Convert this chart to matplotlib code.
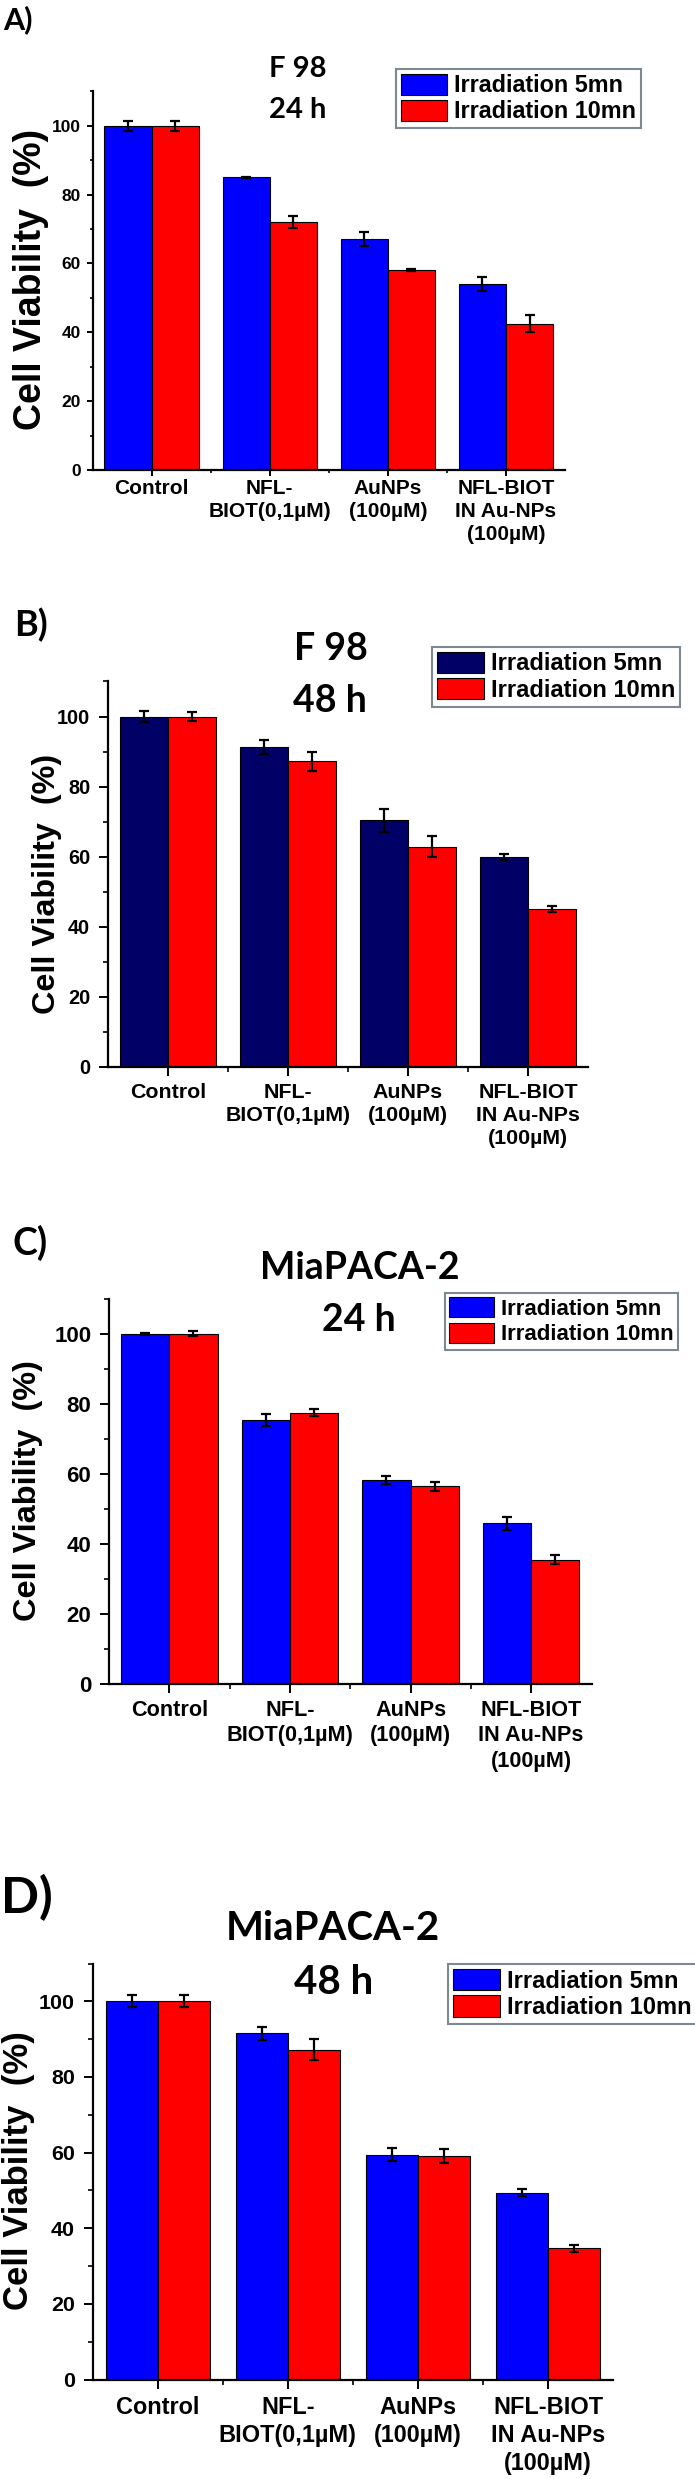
import matplotlib
matplotlib.use("Agg")
import matplotlib.pyplot as plt
import numpy as np
from matplotlib.ticker import FixedLocator

# ---------------- data ----------------
categories = ["Control", "NFL-\nBIOT(0,1µM)", "AuNPs\n(100µM)", "NFL-BIOT\nIN Au-NPs\n(100µM)"]
series_names = ["Irradiation 5mn", "Irradiation 10mn"]

A_5mn = [100, 85.0, 67.1, 54.0]
A_5mn_err = [1.4, 0.2, 2.0, 2.0]
A_10mn = [100, 72.1, 58.1, 42.5]
A_10mn_err = [1.4, 1.7, 0.4, 2.4]

B_5mn = [100, 91.2, 70.3, 59.9]
B_5mn_err = [1.6, 2.0, 3.2, 0.8]
B_10mn = [100, 87.2, 62.8, 45.0]
B_10mn_err = [1.4, 2.8, 3.0, 0.9]

C_5mn = [100, 75.4, 58.2, 45.8]
C_5mn_err = [0.2, 1.7, 1.1, 1.9]
C_10mn = [100, 77.5, 56.4, 35.4]
C_10mn_err = [0.7, 1.1, 1.4, 1.3]

D_5mn = [100, 91.5, 59.5, 49.4]
D_5mn_err = [1.6, 1.8, 1.8, 0.9]
D_10mn = [100, 87.2, 59.1, 34.7]
D_10mn_err = [1.6, 2.8, 1.8, 0.9]

panel_letters = ["A)", "B)", "C)", "D)"]
titles = [("F 98", "24 h"), ("F 98", "48 h"), ("MiaPACA-2", "24 h"), ("MiaPACA-2", "48 h")]
ylabel_text = "Cell Viability  (%)"

# ---------------- layout ----------------
W, H = 695, 2479
fig = plt.figure(figsize=(W / 100, H / 100), dpi=100)

def fx(x):
    return x / W

def fy(y):
    return 1 - y / H

TICKFONT = ["Liberation Sans", "DejaVu Sans"]
TITLEFONT = ["Lato", "DejaVu Sans"]

panels = [
    dict(data=(A_5mn, A_5mn_err, A_10mn, A_10mn_err), c5="#0000ff",
         ax=(92.6, 565, 91.4, 470), xt=15.0, yt=12.5, tl=4.5, pad_x=2, pad_y=4,
         ylab=(31, 279.5, 27), letter=(17.5, 20, 22),
         t1=(298, 69, 21), t2=(298, 110, 21),
         leg=(396, 69, 16.8)),
    dict(data=(B_5mn, B_5mn_err, B_10mn, B_10mn_err), c5="#000066",
         ax=(108, 588, 681.5, 1066.6), xt=15.4, yt=14.3, tl=6.7, pad_x=5, pad_y=6,
         ylab=(46.5, 883.5, 23.3), letter=(31, 625.5, 26),
         t1=(331, 648.5, 27), t2=(330, 701, 27),
         leg=(432, 647, 17)),
    dict(data=(C_5mn, C_5mn_err, C_10mn, C_10mn_err), c5="#0000ff",
         ax=(109, 591.5, 1298.9, 1683.7), xt=15.6, yt=16, tl=6.7, pad_x=5, pad_y=6,
         ylab=(28, 1491, 23.4), letter=(30, 1242.5, 27),
         t1=(360, 1268, 27), t2=(358.6, 1320, 27),
         leg=(445, 1293, 16)),
    dict(data=(D_5mn, D_5mn_err, D_10mn, D_10mn_err), c5="#0000ff",
         ax=(92.6, 613, 1963.5, 2379.6), xt=16.9, yt=15.4, tl=6.7, pad_x=5, pad_y=6,
         ylab=(18.5, 2170.5, 25), letter=(27, 1897.5, 36),
         t1=(333, 1928, 29), t2=(334, 1983, 29),
         leg=(448, 1964, 17.1)),
]

x = np.arange(1, len(categories) + 1)
bw = 0.4

for i, p in enumerate(panels):
    l, r, t, b = p["ax"]
    ax = fig.add_axes([fx(l), fy(b), fx(r - l), (b - t) / H])
    v5, e5, v10, e10 = p["data"]
    ekw = dict(elinewidth=1.6, capthick=1.6, ecolor="black")
    ax.bar(x - bw / 2, v5, bw, yerr=e5, color=p["c5"], edgecolor="black",
           linewidth=0.8, capsize=3.5, error_kw=ekw, label=series_names[0], zorder=2)
    ax.bar(x + bw / 2, v10, bw, yerr=e10, color="#ff0000", edgecolor="black",
           linewidth=0.8, capsize=3.5, error_kw=ekw, label=series_names[1], zorder=2)
    ax.set_xlim(0.5, 4.5)
    ax.set_ylim(0, 110)
    for s in ["top", "right"]:
        ax.spines[s].set_visible(False)
    for s in ["left", "bottom"]:
        ax.spines[s].set_linewidth(1.6)
    ax.set_yticks([0, 20, 40, 60, 80, 100])
    ax.yaxis.set_minor_locator(FixedLocator([10, 30, 50, 70, 90, 110]))
    ax.set_xticks(x)
    ax.xaxis.set_minor_locator(FixedLocator([1.5, 2.5, 3.5]))
    ax.set_xticklabels(categories, fontsize=p["xt"], fontweight="bold",
                       family=TICKFONT, linespacing=1.28)
    for lab in ax.get_yticklabels():
        lab.set_fontsize(p["yt"])
        lab.set_fontweight("bold")
        lab.set_family(TICKFONT)
    ax.tick_params(axis="both", which="major", direction="out", length=p["tl"], width=1.4)
    ax.tick_params(axis="both", which="minor", direction="out", length=p["tl"] * 0.55, width=1.2)
    ax.tick_params(axis="x", which="major", pad=p["pad_x"])
    ax.tick_params(axis="y", which="major", pad=p["pad_y"])

    # y label
    yx, yy, ys = p["ylab"]
    fig.text(fx(yx), fy(yy), ylabel_text, rotation=90, ha="center", va="center",
             fontsize=ys, fontweight="bold", family=TICKFONT)
    # panel letter
    lx, ly, ls = p["letter"]
    fig.text(fx(lx), fy(ly), panel_letters[i], ha="center", va="center",
             fontsize=ls, fontweight="bold", family=TITLEFONT)
    # titles
    for (tx, ty, ts), txt in zip((p["t1"], p["t2"]), titles[i]):
        fig.text(fx(tx), fy(ty), txt, ha="center", va="center",
                 fontsize=ts, fontweight="bold", family=TITLEFONT)
    # legend
    gx, gy, gs = p["leg"]
    leg = ax.legend(loc="upper left", bbox_to_anchor=(fx(gx), fy(gy)),
                    bbox_transform=fig.transFigure, borderaxespad=0,
                    prop=dict(family=TICKFONT, weight="bold", size=gs),
                    handlelength=2.0, handleheight=1.0, labelspacing=0.12,
                    borderpad=0.2, handletextpad=0.3, fancybox=False,
                    framealpha=1, edgecolor="#7a8a90")
    leg.get_frame().set_linewidth(1.5)

fig.savefig("out.png", dpi=100)
